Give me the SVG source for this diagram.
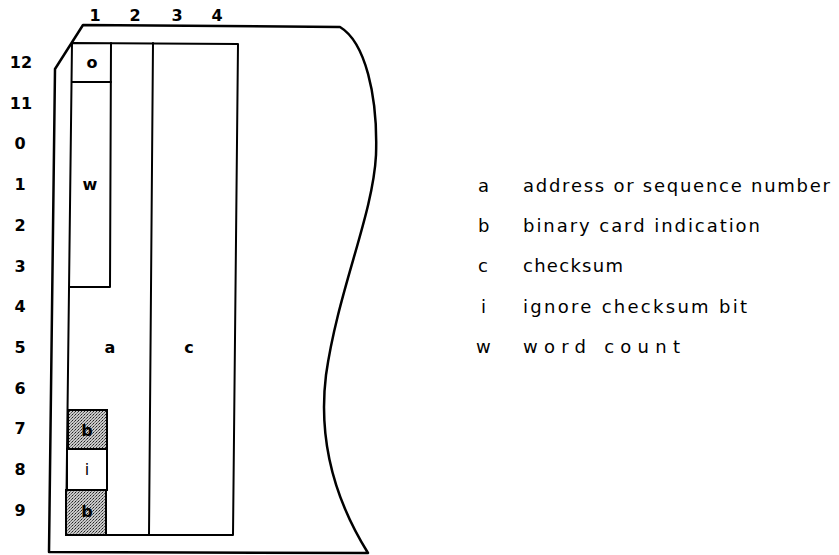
<svg xmlns="http://www.w3.org/2000/svg" width="839" height="555" viewBox="0 0 839 555">
<style>
.ln{fill:none;stroke:#000;stroke-width:2;stroke-linejoin:round;stroke-linecap:round}
.ol{fill:none;stroke:#000;stroke-width:2.5;stroke-linejoin:round}
.lab{font-family:"DejaVu Sans","Liberation Sans",Arial,sans-serif;font-size:16px;font-weight:bold;fill:#000;text-anchor:middle;dominant-baseline:central}
.leg{font-family:"DejaVu Sans","Liberation Sans",Arial,sans-serif;font-size:18px;fill:#000;dominant-baseline:central}
</style>
<defs>
<pattern id="stip" width="3" height="3" patternUnits="userSpaceOnUse">
<rect width="3" height="3" fill="#c8c8c8"/>
<rect x="0" y="0" width="1" height="1" fill="#222"/>
<rect x="2" y="1" width="1" height="1" fill="#555"/>
<rect x="1" y="2" width="1" height="1" fill="#777"/>
</pattern>
</defs>
<g id="card">
<path class="ol" d="M49,552 L55,69 L83,25 L340,27 C365,42 378,95 376,155 C373,215 338,290 326,375 C318,440 335,500 368,553 Z"/>
</g>
<g id="field-grid">
<path class="ln" d="M72,43 L238,44 L233,535 L66,535 Z"/>
<path class="ln" d="M153,43 L149,535"/>
<path class="ln" d="M111,43 L110,287 L70,287"/>
<path class="ln" d="M72,82 L111,82"/>
</g>
<g id="node-o"><text class="lab" x="92" y="62">o</text></g>
<g id="node-w"><text class="lab" x="90" y="184">w</text></g>
<g id="node-a"><text class="lab" x="110" y="347">a</text></g>
<g id="node-c"><text class="lab" x="189" y="347">c</text></g>
<g id="node-b1">
<rect x="68" y="410" width="39" height="39" fill="url(#stip)" stroke="#000" stroke-width="2"/>
<text class="lab" x="87" y="430">b</text>
</g>
<g id="node-i">
<rect x="67" y="449" width="40" height="41" fill="#fff" stroke="#000" stroke-width="2"/>
<text class="lab" x="87" y="469" style="font-weight:normal">i</text>
</g>
<g id="node-b2">
<rect x="66" y="490" width="40" height="45" fill="url(#stip)" stroke="#000" stroke-width="2"/>
<text class="lab" x="87" y="511">b</text>
</g>
<g id="col-labels">
<text class="lab" x="95" y="15">1</text>
<text class="lab" x="135" y="15">2</text>
<text class="lab" x="177" y="15">3</text>
<text class="lab" x="217" y="15">4</text>
</g>
<g id="row-labels">
<text class="lab" x="21" y="62">12</text>
<text class="lab" x="21" y="103">11</text>
<text class="lab" x="20" y="143">0</text>
<text class="lab" x="20" y="184">1</text>
<text class="lab" x="20" y="225">2</text>
<text class="lab" x="20" y="266">3</text>
<text class="lab" x="20" y="306">4</text>
<text class="lab" x="20" y="347">5</text>
<text class="lab" x="20" y="388">6</text>
<text class="lab" x="20" y="428">7</text>
<text class="lab" x="20" y="469">8</text>
<text class="lab" x="20" y="510">9</text>
</g>
<g id="legend">
<text class="leg" x="478" y="185">a</text>
<text class="leg" x="523" y="185" textLength="307" lengthAdjust="spacing">address or sequence number</text>
<text class="leg" x="478" y="225">b</text>
<text class="leg" x="523" y="225" textLength="237" lengthAdjust="spacing">binary card indication</text>
<text class="leg" x="478" y="265">c</text>
<text class="leg" x="523" y="265" textLength="100" lengthAdjust="spacing">checksum</text>
<text class="leg" x="481" y="306">i</text>
<text class="leg" x="523" y="306" textLength="224" lengthAdjust="spacing">ignore checksum bit</text>
<text class="leg" x="476" y="346">w</text>
<text class="leg" x="523" y="346" textLength="157" lengthAdjust="spacing">word count</text>
</g>
</svg>
